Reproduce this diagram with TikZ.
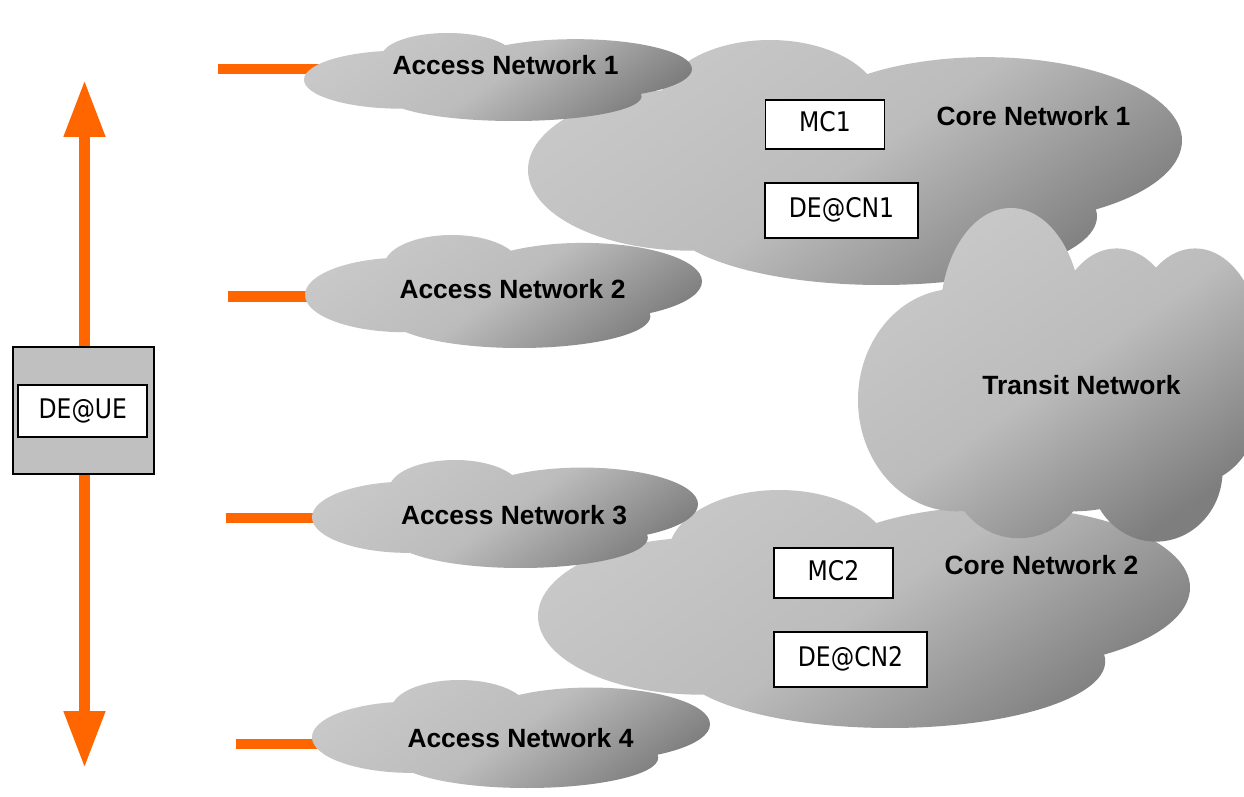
\documentclass[tikz,border=0pt]{standalone}
\usepackage{fontspec}
\setmainfont{Liberation Sans}
\newfontfamily\boxfont{DejaVu Sans}[FakeStretch=0.87]
\usetikzlibrary{arrows.meta}
\pgfdeclarelayer{background}
\pgfsetlayers{background,main}

\definecolor{orangeline}{HTML}{FF6600}
\definecolor{cloudhi}{HTML}{C8C8C8}
\definecolor{cloudmid}{HTML}{BCBCBC}
\definecolor{cloudlo}{HTML}{7E7E7E}
\definecolor{uegray}{HTML}{C0C0C0}

\tikzset{
  cloudfill/.style={top color=cloudhi, bottom color=cloudlo, middle color=cloudmid, shading angle=35},
  netlabel/.style={font=\bfseries\fontsize{13.2}{15}\selectfont, inner sep=0pt, text height=0.72em, text depth=0pt},
  debox/.style={draw, line width=0.9pt, fill=white, inner sep=0pt,
    font=\boxfont\fontsize{13.5}{15}\selectfont, text height=0.73em, text depth=0pt},
  stub/.style={draw=orangeline, line width=5pt},
  updown/.style={draw=orangeline, line width=5.5pt, -{Triangle[length=28.5pt, width=19.5pt]}},
}

% a cloud is a union of puffs, laid out in a 100x100 box placed at
% (x0,y0) with size w x h, all in pixels (1px = 0.5pt, y downwards)
\newcommand\cloudbox[4]{%
  \pgfmathsetmacro\cloudxu{#3/200}%
  \pgfmathsetmacro\cloudyu{-#4/200}%
  \begin{scope}[shift={(#1,#2)}, x=\cloudxu pt, y=\cloudyu pt]}

% wide cloud: left, top, right, bottom puffs
\newcommand\widecloud[4]{%
  \cloudbox{#1}{#2}{#3}{#4}
    \shade[cloudfill]
      (25,53) ellipse[x radius=25, y radius=33]
      (37,27) ellipse[x radius=17, y radius=27]
      (70,41) ellipse[x radius=30, y radius=34]
      (54,72) ellipse[x radius=33, y radius=28]
      (50,52) ellipse[x radius=30, y radius=28];
  \end{scope}}

% tall cloud with several puffs along the top and bottom
\newcommand\tallcloud[4]{%
  \cloudbox{#1}{#2}{#3}{#4}
    \shade[cloudfill]
      (25,57) ellipse[x radius=25, y radius=33]
      (39,32) ellipse[x radius=18, y radius=32]
      (66,38) ellipse[x radius=16, y radius=26]
      (86,42) ellipse[x radius=17, y radius=30]
      (85,60) ellipse[x radius=17, y radius=22]
      (76,78) ellipse[x radius=17, y radius=21]
      (41,76) ellipse[x radius=18, y radius=22]
      (55,55) ellipse[x radius=35, y radius=35];
  \end{scope}}

\begin{document}
\begin{tikzpicture}[x=0.5pt, y=-0.5pt]
  \useasboundingbox (0,0) rectangle (1244,797);
  \begin{pgfonlayer}{background}
    \fill[white] (0,0) rectangle (1244,797);
  \end{pgfonlayer}

  % clouds, back to front
  \widecloud{528}{40}{654}{245}
  \widecloud{538}{490}{652}{238}
  \tallcloud{858}{208}{392}{337}
  \widecloud{304}{33}{388}{88}
  \widecloud{305}{235}{397}{113}
  \widecloud{312}{460}{386}{108}
  \widecloud{312}{680}{398}{108}

  % network names
  \node[netlabel] (an1) at (505.5,67) {Access Network 1};
  \node[netlabel] (an2) at (512.5,291.5) {Access Network 2};
  \node[netlabel] (an3) at (514,517.5) {Access Network 3};
  \node[netlabel] (an4) at (520.5,740) {Access Network 4};
  \node[netlabel] (cn1) at (1033.5,118.5) {Core Network 1};
  \node[netlabel] (cn2) at (1041.5,567) {Core Network 2};
  \node[netlabel] (tn) at (1081.5,387.5) {Transit Network};

  % entities inside the core networks
  \node[debox, minimum width=59.5pt, minimum height=24.5pt] (mc1) at (825,124.5) {MC1};
  \node[debox, minimum width=76.5pt, minimum height=27.5pt] (decn1) at (841.5,210.5) {DE@CN1};
  \node[debox, minimum width=59.5pt, minimum height=25pt] (mc2) at (833.5,573) {MC2};
  \node[debox, minimum width=76.5pt, minimum height=27.5pt] (decn2) at (850.5,659.5) {DE@CN2};

  % user equipment
  \node[draw, line width=1pt, fill=uegray, minimum width=70.5pt, minimum height=63.5pt, inner sep=0pt] (ue) at (83.5,410.5) {};
  \node[debox, line width=1pt, minimum width=64.5pt, minimum height=26pt] (deue) at (82.8,411) {DE@UE};

  % mobility arrows
  \coordinate (uptip) at (84.5,80);
  \coordinate (downtip) at (84.5,768);
  \draw[updown] (ue.north -| uptip) -- (uptip);
  \draw[updown] (ue.south -| downtip) -- (downtip);

  % attachment stubs of the access networks
  \coordinate (s1) at (218,69);
  \coordinate (s2) at (228,296.5);
  \coordinate (s3) at (226,518);
  \coordinate (s4) at (236,744);
  \begin{pgfonlayer}{background}
    \draw[stub] (s1) -- (s1 -| an1.west);
    \draw[stub] (s2) -- (s2 -| an2.west);
    \draw[stub] (s3) -- (s3 -| an3.west);
    \draw[stub] (s4) -- (s4 -| an4.west);
  \end{pgfonlayer}
\end{tikzpicture}
\end{document}
